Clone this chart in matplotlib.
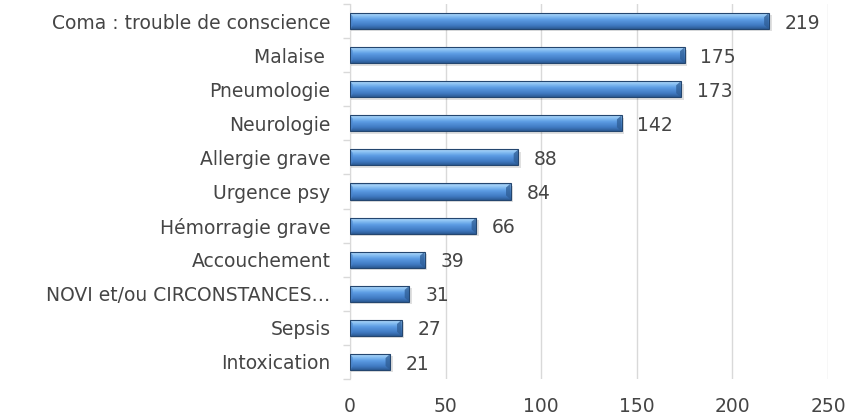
import numpy as np
import matplotlib.pyplot as plt
from matplotlib.colors import LinearSegmentedColormap
from matplotlib.patches import Rectangle

categories = ["Coma : trouble de conscience", "Malaise ", "Pneumologie", "Neurologie",
              "Allergie grave", "Urgence psy", "Hémorragie grave", "Accouchement",
              "NOVI et/ou CIRCONSTANCES…", "Sepsis", "Intoxication"]
values = [219, 175, 173, 142, 88, 84, 66, 39, 31, 27, 21]
xticks = [0, 50, 100, 150, 200, 250]

plt.rcParams['font.family'] = ['DejaVu Sans']
text_col = '#454545'
fs = 13.5

fig = plt.figure(figsize=(8.6, 4.18), dpi=100)
ax = fig.add_axes([350 / 860, 1 - 379 / 418, 478 / 860, 375 / 418])

n = len(categories)
ypos = np.arange(n)[::-1]
h = 0.47

# vertical gradient: light top -> mid blue -> dark bottom
cmap = LinearSegmentedColormap.from_list('bev', [
    (0.0, '#2b5a93'), (0.2, '#3f78c0'), (0.55, '#5b9be3'),
    (0.78, '#8cc3f4'), (0.9, '#a9d3f7'), (1.0, '#5b8fcf')])
grad = np.linspace(0, 1, 64).reshape(-1, 1)

bars = ax.barh(ypos, values, height=h, color='none', edgecolor='#24466f', linewidth=0.8, zorder=3)
for b, v in zip(bars, values):
    y0 = b.get_y()
    # soft shadow
    ax.add_patch(Rectangle((0.5, y0 - 0.07), v + 1.0, h, facecolor='#000000', alpha=0.12,
                           edgecolor='none', zorder=2))
    im = ax.imshow(grad, cmap=cmap, aspect='auto', origin='lower',
                   extent=(0, v, y0, y0 + h), zorder=2.5, interpolation='bilinear')
    im.set_clip_path(b)
    # bevel on the two ends
    bev = 2.4
    ax.fill([v - bev, v, v, v - bev], [y0 + 0.12, y0, y0 + h, y0 + h - 0.12],
            color='#2e5d95', alpha=0.75, zorder=2.7, lw=0)
    ax.fill([0, bev * 0.6, bev * 0.6, 0], [y0, y0 + 0.1, y0 + h - 0.1, y0 + h],
            color='#4a86cf', alpha=0.6, zorder=2.7, lw=0)
    ax.text(v + 8.3, b.get_y() + h / 2 - 0.06, str(v), va='center', ha='left',
            fontsize=fs, color=text_col)

ax.set_xlim(0, 250)
ax.set_ylim(-0.5, n - 0.5)
ax.set_xticks(xticks)
ax.set_xticklabels([str(t) for t in xticks], fontsize=fs, color=text_col)
ax.tick_params(axis='x', length=0, pad=13)
ax.set_yticks(ypos)
ax.set_yticklabels(categories, fontsize=fs, color=text_col)
ax.tick_params(axis='y', which='major', length=0, pad=14)
ax.set_yticks(np.arange(-0.5, n, 1), minor=True)
ax.tick_params(axis='y', which='minor', length=5, color='#d9d9d9', width=1)

ax.grid(axis='x', color='#d9d9d9', linewidth=1, zorder=0)
ax.set_axisbelow(True)
for s in ['top', 'right', 'bottom']:
    ax.spines[s].set_visible(False)
ax.spines['left'].set_color('#d9d9d9')

fig.savefig('out.png', dpi=100)
